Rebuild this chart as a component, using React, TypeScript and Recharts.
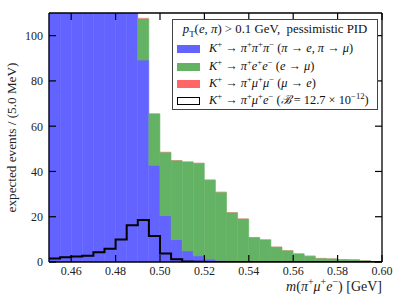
import React from 'react';
import { ComposedChart, Bar, Line, XAxis, YAxis, Legend, Label } from 'recharts';

const binLow = [
  0.45, 0.455, 0.46, 0.465, 0.47, 0.475, 0.48, 0.485, 0.49, 0.495,
  0.5, 0.505, 0.51, 0.515, 0.52, 0.525, 0.53, 0.535, 0.54, 0.545,
  0.55, 0.555, 0.56, 0.565, 0.57, 0.575, 0.58, 0.585, 0.59, 0.595,
];
const xMax = 0.6;

// K+ -> pi+ pi+ pi- (pi -> e, pi -> mu)
const bluePiPiPi = [
  150, 180, 210, 250, 300, 340, 330, 260, 89.2, 42.7,
  20.5, 9.9, 4.9, 2.7, 1.3, 0.7, 0.4, 0.2, 0.1, 0,
  0, 0, 0, 0, 0, 0, 0, 0, 0, 0,
];
// K+ -> pi+ e+ e- (e -> mu)
const greenPiEE = [
  2, 3, 4, 5, 7, 9, 12, 15, 18.2, 22.7,
  27.9, 34.9, 39.3, 40.9, 34.9, 30.1, 21.4, 18.8, 10.7, 9.8,
  6.6, 5.0, 3.6, 2.6, 1.6, 1.4, 1.1, 1.0, 0.6, 0.25,
];
// K+ -> pi+ mu+ mu- (mu -> e)
const redPiMuMu = [
  0.1, 0.1, 0.1, 0.2, 0.2, 0.2, 0.3, 0.4, 0.5, 0.3,
  0.3, 0.25, 0.25, 0.25, 0.25, 0.25, 0.25, 0.25, 0.2, 0.2,
  0.2, 0.2, 0.2, 0.2, 0.2, 0.2, 0.2, 0.2, 0.15, 0.05,
];
// K+ -> pi+ mu+ e- signal (B = 12.7e-12)
const signalPiMuE = [
  1.5, 2.1, 2.4, 2.8, 4.3, 5.9, 9.9, 16.2, 18.6, 11.5,
  3.8, 1.2, 0.2, 0.1, 0, 0, 0, 0, 0, 0,
  0, 0, 0, 0, 0, 0, 0, 0, 0, 0,
];

const xTicks = [0.46, 0.48, 0.5, 0.52, 0.54, 0.56, 0.58, 0.6];
const yTicks = [0, 20, 40, 60, 80, 100];

const BLUE = '#6363ff';
const GREEN = '#64b264';
const RED = '#ff6666';
const FONT = '"Liberation Serif", "DejaVu Serif", serif';

const histData = binLow.map((b, i) => ({
  bin: b,
  blue: bluePiPiPi[i],
  green: greenPiEE[i],
  red: redPiMuMu[i],
}));

const stepData = [
  ...binLow.map((b, i) => ({ x: b, y: signalPiMuE[i] })),
  { x: xMax, y: signalPiMuE[signalPiMuE.length - 1] },
];

const TICK_LEN = 7;

const BottomTick = (p: any) => (
  <g>
    <line x1={p.x} x2={p.x} y1={p.y} y2={p.y - TICK_LEN} stroke="#000" strokeWidth={1.2} />
    <text x={p.x} y={p.y + 12.5} textAnchor="middle" fontFamily={FONT} fontSize={12} fill="#222">
      {Number(p.payload.value).toFixed(2)}
    </text>
  </g>
);
const TopTick = (p: any) => (
  <line x1={p.x} x2={p.x} y1={p.y} y2={p.y + TICK_LEN} stroke="#000" strokeWidth={1.2} />
);
const LeftTick = (p: any) => (
  <g>
    <line x1={p.x} x2={p.x + TICK_LEN} y1={p.y} y2={p.y} stroke="#000" strokeWidth={1.2} />
    <text x={p.x - 6} y={p.y} dy="0.36em" textAnchor="end" fontFamily={FONT} fontSize={12} fill="#222">
      {p.payload.value}
    </text>
  </g>
);
const RightTick = (p: any) => (
  <line x1={p.x} x2={p.x - TICK_LEN} y1={p.y} y2={p.y} stroke="#000" strokeWidth={1.2} />
);

const supStyle: React.CSSProperties = { fontSize: '0.7em', verticalAlign: 'super', lineHeight: 0 };
const Sup = ({ c }: { c: string }) => <span style={supStyle}>{c}</span>;
const I = ({ c }: { c: string }) => <i>{c}</i>;

const LegendBox = () => {
  const rows: { swatch: React.CSSProperties; text: React.ReactNode }[] = [
    {
      swatch: { background: BLUE },
      text: (
        <>
          <I c="K" /><Sup c="+" /> → <I c="π" /><Sup c="+" /><I c="π" /><Sup c="+" /><I c="π" /><Sup c="−" /> (<I c="π" /> → <I c="e" />, <I c="π" /> → <I c="μ" />)
        </>
      ),
    },
    {
      swatch: { background: GREEN },
      text: (
        <>
          <I c="K" /><Sup c="+" /> → <I c="π" /><Sup c="+" /><I c="e" /><Sup c="+" /><I c="e" /><Sup c="−" /> (<I c="e" /> → <I c="μ" />)
        </>
      ),
    },
    {
      swatch: { background: RED },
      text: (
        <>
          <I c="K" /><Sup c="+" /> → <I c="π" /><Sup c="+" /><I c="μ" /><Sup c="+" /><I c="μ" /><Sup c="−" /> (<I c="μ" /> → <I c="e" />)
        </>
      ),
    },
    {
      swatch: { background: '#fff', border: '1.6px solid #000', boxSizing: 'border-box' },
      text: (
        <>
          <I c="K" /><Sup c="+" /> → <I c="π" /><Sup c="+" /><I c="μ" /><Sup c="+" /><I c="e" /><Sup c="−" /> (<I c="ℬ" /> = 12.7 × 10<Sup c="−12" />)
        </>
      ),
    },
  ];
  const rowY = [29, 47, 64, 81];
  return (
    <div
      style={{
        position: 'relative',
        width: 206,
        height: 91,
        border: '1px solid #444',
        boxSizing: 'border-box',
        background: '#fff',
        fontFamily: FONT,
        fontSize: 12.4,
        color: '#111',
        lineHeight: '14px',
      }}
    >
      <div style={{ position: 'absolute', left: 0, width: 204, top: 2, textAlign: 'center', whiteSpace: 'nowrap', fontSize: 12.8 }}>
        <I c="p" /><span style={{ fontSize: '0.7em', verticalAlign: 'sub', lineHeight: 0 }}>T</span>(<I c="e" />, <I c="π" />) &gt; 0.1 GeV,&nbsp; pessimistic PID
      </div>
      {rows.map((r, i) => (
        <React.Fragment key={i}>
          <div style={{ position: 'absolute', left: 4, top: rowY[i] - 4, width: 23, height: 8, ...r.swatch }} />
          <div style={{ position: 'absolute', left: 36, top: rowY[i] - 8, whiteSpace: 'nowrap' }}>{r.text}</div>
        </React.Fragment>
      ))}
    </div>
  );
};

export default function App() {
  return (
    <div style={{ position: 'absolute', left: 0, top: 0 }}>
      <ComposedChart
        width={407}
        height={305}
        data={histData}
        margin={{ top: 12, right: 24, bottom: 0, left: 0 }}
        barCategoryGap={0}
        barGap={0}
      >
        <Bar xAxisId="cat" yAxisId="left" dataKey="blue" stackId="h" fill={BLUE} stroke={BLUE} strokeWidth={0.6} isAnimationActive={false} />
        <Bar xAxisId="cat" yAxisId="left" dataKey="green" stackId="h" fill={GREEN} stroke={GREEN} strokeWidth={0.6} isAnimationActive={false} />
        <Bar xAxisId="cat" yAxisId="left" dataKey="red" stackId="h" fill={RED} fillOpacity={0.6} isAnimationActive={false} />
        <Line
          xAxisId="num"
          yAxisId="left"
          data={stepData}
          dataKey="y"
          type="stepAfter"
          stroke="#000"
          strokeWidth={2}
          dot={false}
          activeDot={false}
          isAnimationActive={false}
        />
        <YAxis
          yAxisId="left"
          orientation="left"
          width={49}
          domain={[0, 110]}
          allowDataOverflow
          ticks={yTicks}
          interval={0}
          tickSize={0}
          tickMargin={0}
          tickLine={false}
          tick={LeftTick}
          axisLine={{ stroke: '#000', strokeWidth: 1.3 }}
        >
          <Label
            content={(props: any) => {
              const vb = props.viewBox || { x: 0, y: 13, width: 49, height: 249 };
              const x = vb.x + 15.5;
              const y = vb.y + vb.height / 2;
              return (
                <text
                  x={x}
                  y={y}
                  transform={`rotate(-90 ${x} ${y})`}
                  textAnchor="middle"
                  fontFamily={FONT}
                  fontSize={13.2}
                  fill="#222"
                >
                  expected events / (5.0 MeV)
                </text>
              );
            }}
          />
        </YAxis>
        <XAxis
          xAxisId="num"
          dataKey="x"
          type="number"
          orientation="bottom"
          height={43}
          domain={[0.45, xMax]}
          allowDataOverflow
          ticks={xTicks}
          interval={0}
          tickSize={0}
          tickMargin={0}
          tickLine={false}
          tick={BottomTick}
          axisLine={{ stroke: '#000', strokeWidth: 1.3 }}
        >
          <Label
            content={(props: any) => {
              const vb = props.viewBox || { x: 49, y: 262, width: 333, height: 43 };
              const x = vb.x + vb.width;
              const y = vb.y + 28.5;
              return (
                <text x={x} y={y} textAnchor="end" fontFamily={FONT} fontSize={14} fill="#222">
                  <tspan fontStyle="italic">m</tspan>
                  <tspan>(</tspan>
                  <tspan fontStyle="italic">π</tspan>
                  <tspan fontSize={10} dy={-5.5}>+</tspan>
                  <tspan fontStyle="italic" dy={5.5}>μ</tspan>
                  <tspan fontSize={10} dy={-5.5}>+</tspan>
                  <tspan fontStyle="italic" dy={5.5}>e</tspan>
                  <tspan fontSize={10} dy={-5.5}>−</tspan>
                  <tspan dy={5.5}>) [GeV]</tspan>
                </text>
              );
            }}
          />
        </XAxis>
        <XAxis xAxisId="cat" dataKey="bin" type="category" hide height={0} padding={{ left: 0, right: 0 }} />
        <XAxis
          xAxisId="top"
          dataKey="x"
          type="number"
          orientation="top"
          height={1}
          domain={[0.45, xMax]}
          allowDataOverflow
          ticks={xTicks}
          interval={0}
          tickSize={0}
          tickMargin={0}
          tickLine={false}
          tick={TopTick}
          axisLine={{ stroke: '#000', strokeWidth: 1.3 }}
        />
        <YAxis
          yAxisId="right"
          orientation="right"
          width={1}
          domain={[0, 110]}
          allowDataOverflow
          ticks={yTicks}
          interval={0}
          tickSize={0}
          tickMargin={0}
          tickLine={false}
          tick={RightTick}
          axisLine={{ stroke: '#000', strokeWidth: 1.3 }}
        />
        <Legend
          layout="horizontal"
          align="center"
          verticalAlign="middle"
          wrapperStyle={{ left: 172, top: 19, width: 206, height: 91 }}
          content={LegendBox}
        />
      </ComposedChart>
    </div>
  );
}
